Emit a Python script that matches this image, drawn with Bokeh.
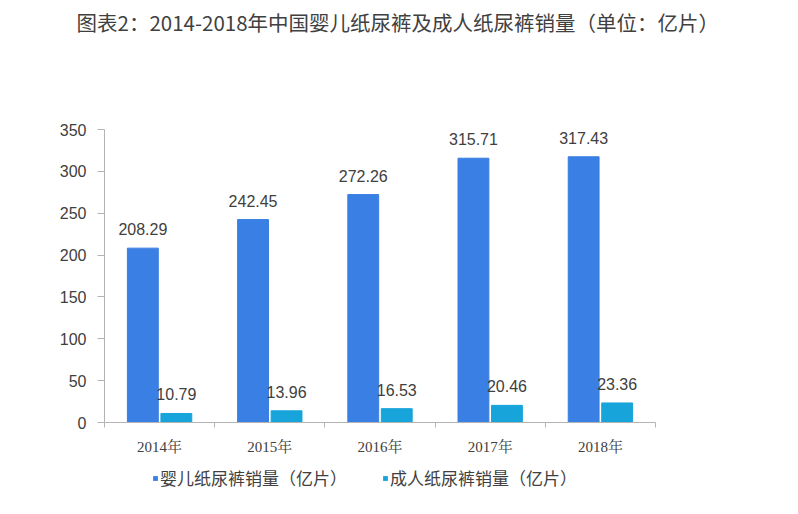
from bokeh.plotting import figure
from bokeh.layouts import column
from bokeh.models import (ColumnDataSource, FixedTicker, Legend, LegendItem,
                          Title, Range1d)
from bokeh.transform import dodge
from bokeh.core.properties import value
from bokeh.embed import file_html
from bokeh.resources import INLINE

# ---- data ----
title_text = "图表2：2014-2018年中国婴儿纸尿裤及成人纸尿裤销量（单位：亿片）"
years = ["2014年", "2015年", "2016年", "2017年", "2018年"]
baby = [208.29, 242.45, 272.26, 315.71, 317.43]
adult = [10.79, 13.96, 16.53, 20.46, 23.36]
baby_name = "婴儿纸尿裤销量（亿片）"
adult_name = "成人纸尿裤销量（亿片）"
y_ticks = [0, 50, 100, 150, 200, 250, 300, 350]

BLUE = "#3A7FE3"
CYAN = "#17A4DB"
AXIS = "#b4b4b4"
TXT = "#404040"

idx = [i + 0.5 for i in range(len(years))]
bounds = list(range(len(years) + 1))
src = ColumnDataSource(dict(
    x=idx, baby=baby, adult=adult,
    baby_lbl=[f"{v:.2f}" for v in baby],
    adult_lbl=[f"{v:.2f}" for v in adult],
))

# ---- title strip ----
t = figure(width=798, height=60, output_backend="svg", toolbar_location=None,
           x_range=Range1d(0, 1), y_range=Range1d(0, 1),
           x_axis_type=None, y_axis_type=None,
           min_border_left=104, min_border_right=143,
           min_border_top=0, min_border_bottom=0)
t.title = Title(text=title_text, align="left", offset=-28, standoff=8,
                text_font_size="20.5px", text_font="Noto Sans CJK SC",
                text_font_style="normal", text_color=TXT)
t.outline_line_color = None
t.xgrid.visible = False
t.ygrid.visible = False

# ---- main chart ----
p = figure(width=798, height=400, output_backend="svg", toolbar_location=None,
           x_range=Range1d(0, len(years)), y_range=Range1d(0, 350),
           min_border_left=104, min_border_right=143,
           min_border_top=69, min_border_bottom=38)
p.title.text = ""
p.outline_line_color = None
p.xgrid.visible = False
p.ygrid.visible = False

r1 = p.vbar(x=dodge("x", -0.152, range=p.x_range), top="baby", width=0.28,
            source=src, color=BLUE)
r2 = p.vbar(x=dodge("x", 0.152, range=p.x_range), top="adult", width=0.28,
            source=src, color=CYAN)

lbl_font = value("Liberation Sans")
p.text(x=dodge("x", -0.152, range=p.x_range), y="baby", text="baby_lbl",
       source=src, text_align="center", text_baseline="middle", y_offset=-19,
       text_font=lbl_font, text_font_size="16px", text_color=TXT)
p.text(x=dodge("x", 0.152, range=p.x_range), y="adult", text="adult_lbl",
       source=src, text_align="center", text_baseline="middle", y_offset=-19,
       text_font=lbl_font, text_font_size="16px", text_color=TXT)

# y axis
ya = p.yaxis[0]
ya.ticker = FixedTicker(ticks=y_ticks)
ya.axis_line_color = AXIS
ya.major_tick_line_color = AXIS
ya.major_tick_out = 7
ya.major_tick_in = 0
ya.minor_tick_line_color = None
ya.major_label_standoff = 11
ya.major_label_text_font = "Liberation Sans"
ya.major_label_text_font_size = "16px"
ya.major_label_text_color = TXT

# x axis
xa = p.xaxis[0]
xa.ticker = FixedTicker(ticks=idx, minor_ticks=bounds)
xa.major_label_overrides = {t_: y for t_, y in zip(idx, years)}
xa.axis_line_color = AXIS
xa.major_tick_line_color = None
xa.major_tick_out = 0
xa.major_tick_in = 0
xa.minor_tick_line_color = AXIS
xa.minor_tick_out = 5
xa.minor_tick_in = 0
xa.major_label_standoff = 11
xa.major_label_text_font = "'Liberation Serif', 'Noto Serif CJK SC', serif"
xa.major_label_text_font_size = "15px"
xa.major_label_text_color = TXT

# ---- legend strip ----
q = figure(width=798, height=54, output_backend="svg", toolbar_location=None,
           x_range=Range1d(0, 1), y_range=Range1d(0, 1),
           x_axis_type=None, y_axis_type=None,
           min_border_left=104, min_border_right=143,
           min_border_top=0, min_border_bottom=0)
q.outline_line_color = None
q.xgrid.visible = False
q.ygrid.visible = False
# zero-size swatch renderers: only their legend glyphs are visible
lr1 = q.vbar(x=[0.5], top=[0], width=0, fill_color=BLUE, line_color=None)
lr2 = q.vbar(x=[0.5], top=[0], width=0, fill_color=CYAN, line_color=None)
legend = Legend(items=[LegendItem(label=baby_name, renderers=[lr1]),
                       LegendItem(label=adult_name, renderers=[lr2])],
                orientation="horizontal", location=(48, 24),
                glyph_width=6, glyph_height=6, label_standoff=2, spacing=35,
                padding=0, margin=0, border_line_color=None,
                background_fill_alpha=0,
                label_text_font="Noto Sans CJK SC", label_text_font_size="17px",
                label_text_color=TXT)
q.add_layout(legend, "center")

layout = column(t, p, q, spacing=0)
open("out.html", "w").write(file_html(layout, INLINE))
